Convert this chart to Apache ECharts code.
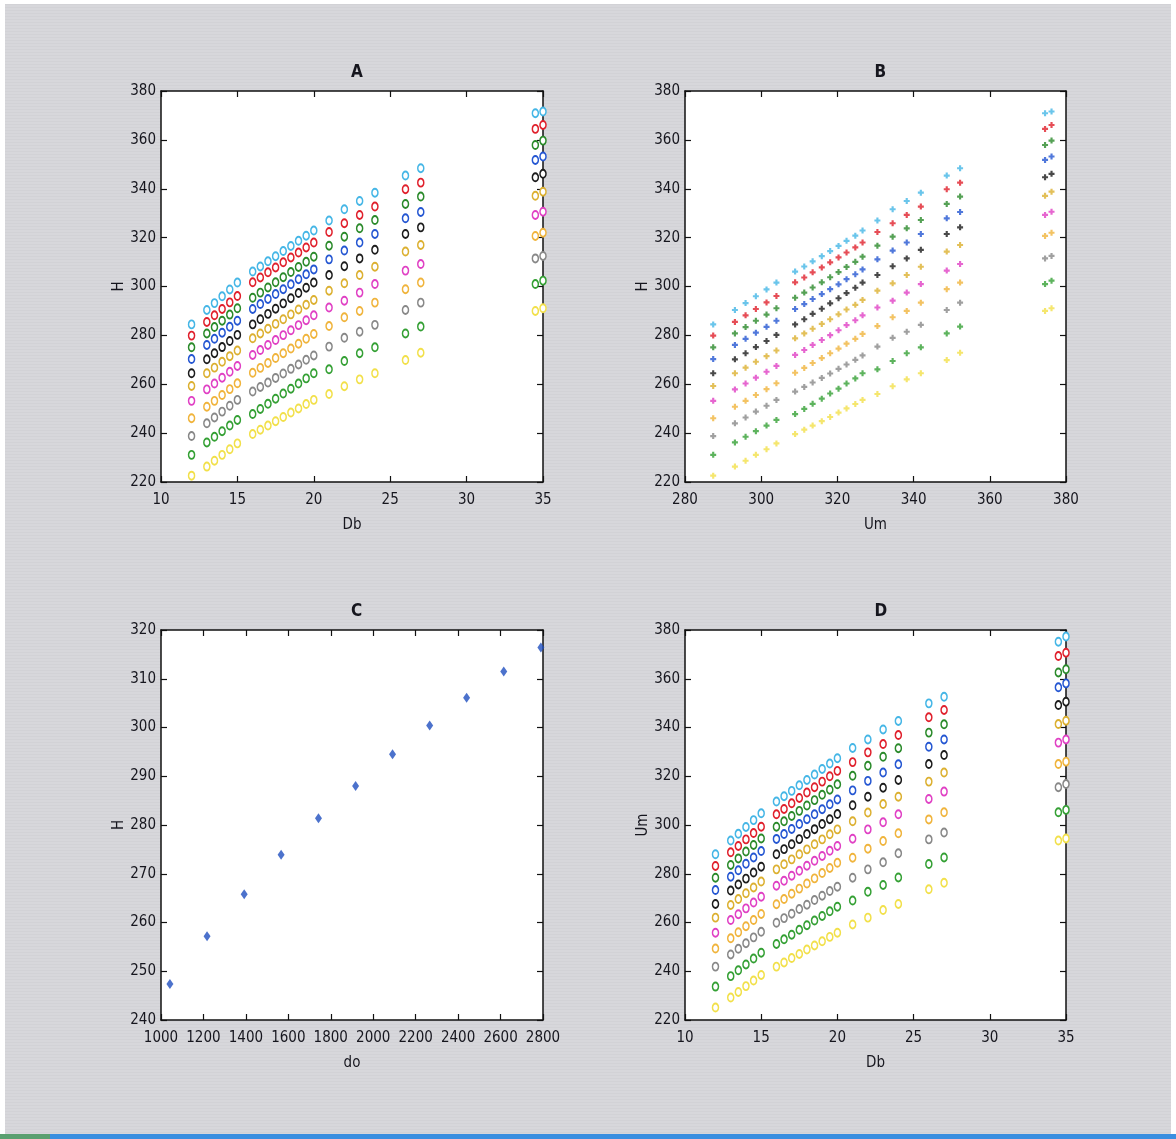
<!DOCTYPE html>
<html>
<head>
<meta charset="utf-8">
<script src="https://cdn.jsdelivr.net/npm/echarts@6/dist/echarts.min.js"></script>
<style>
  body { margin: 0; background: #fff; }
  #bg {
    position: absolute; left: 5px; top: 4px; width: 1166px; height: 1130px;
    background: repeating-linear-gradient(180deg, #d2d2d6 0px, #d2d2d6 1px, #d7d7db 1px, #d7d7db 3px);
  }
  #bar {
    position: absolute; left: 0; top: 1134px; width: 1176px; height: 5px;
    background: linear-gradient(90deg, #5aa070 0px, #5aa070 50px, #3a8fe0 50px, #3a8fe0 100%);
  }
  #chart { position: absolute; left: 0; top: 0; width: 1176px; height: 1139px; }
</style>
</head>
<body>
<div id="bg"></div>
<div id="bar"></div>
<div id="chart"></div>
<script>
// column positions (Db) shared by panels A and D
let dbCols = [12, 13, 13.5, 14, 14.5, 15, 16, 16.5, 17, 17.5, 18, 18.5, 19, 19.5, 20, 21, 22, 23, 24, 26, 27, 34.5, 35];
// column positions on the Um axis of panel B
let umCols = [287.4, 293.1, 295.9, 298.6, 301.4, 304.0, 308.9, 311.3, 313.5, 315.9, 318.1, 320.3, 322.4, 324.7, 326.6, 330.5, 334.5, 338.2, 341.9, 348.7, 352.2, 374.5, 376.2];

let seriesColors = ['#45b6e6', '#e0202c', '#2a8a2a', '#2456d2', '#1c1c1c', '#dcb030', '#e040c4', '#f0b43c', '#888888', '#34a034', '#f2e04a'];

// H values, one array per colour (top row to bottom row)
let hCyan    = [284.5, 290.4, 293.2, 296.0, 298.8, 301.6, 306.1, 308.2, 310.3, 312.4, 314.5, 316.6, 318.7, 320.8, 322.9, 327.0, 331.6, 335.0, 338.4, 345.4, 348.4, 370.9, 371.6];
let hRed     = [279.9, 285.5, 288.2, 290.8, 293.5, 296.1, 301.7, 303.7, 305.8, 307.8, 309.9, 311.9, 313.9, 316.0, 318.0, 322.3, 325.9, 329.3, 332.7, 339.8, 342.5, 364.5, 366.1];
let hGreen   = [275.1, 280.8, 283.4, 286.0, 288.5, 291.1, 295.4, 297.5, 299.6, 301.7, 303.8, 305.9, 308.0, 310.1, 312.2, 316.7, 320.4, 323.8, 327.2, 333.8, 336.8, 357.9, 359.7];
let hBlue    = [270.3, 276.1, 278.6, 281.1, 283.5, 286.0, 290.8, 292.8, 294.9, 296.9, 298.9, 300.9, 303.0, 305.0, 307.0, 311.1, 314.7, 318.0, 321.5, 327.9, 330.5, 351.8, 353.2];
let hBlack   = [264.5, 270.2, 272.7, 275.2, 277.7, 280.2, 284.5, 286.6, 288.8, 290.9, 293.1, 295.2, 297.3, 299.5, 301.6, 304.7, 308.3, 311.5, 315.0, 321.5, 324.2, 344.7, 346.1];
let hGold    = [259.3, 264.5, 266.8, 269.2, 271.5, 273.8, 278.8, 280.8, 282.7, 284.7, 286.6, 288.6, 290.6, 292.5, 294.5, 298.3, 301.3, 304.7, 308.1, 314.3, 317.0, 337.1, 338.8];
let hMagenta = [253.2, 257.9, 260.3, 262.7, 265.1, 267.5, 272.0, 274.0, 276.1, 278.1, 280.1, 282.1, 284.2, 286.2, 288.2, 291.4, 294.2, 297.5, 301.0, 306.5, 309.2, 329.3, 330.6];
let hOrange  = [246.1, 250.8, 253.2, 255.6, 258.0, 260.4, 264.7, 266.7, 268.7, 270.7, 272.7, 274.6, 276.6, 278.6, 280.6, 283.8, 287.4, 290.0, 293.4, 298.9, 301.6, 320.7, 322.0];
let hGray    = [238.8, 244.0, 246.4, 248.8, 251.2, 253.6, 257.0, 258.9, 260.7, 262.6, 264.4, 266.3, 268.1, 270.0, 271.8, 275.4, 279.0, 281.5, 284.3, 290.4, 293.4, 311.5, 312.5];
let hGreen2  = [231.1, 236.2, 238.5, 240.8, 243.1, 245.4, 247.8, 249.9, 252.0, 254.1, 256.2, 258.2, 260.3, 262.4, 264.5, 266.1, 269.5, 272.7, 275.1, 280.8, 283.6, 301.0, 302.4];
let hYellow  = [222.6, 226.3, 228.7, 231.1, 233.4, 235.8, 239.6, 241.4, 243.1, 244.9, 246.6, 248.4, 250.1, 251.9, 253.6, 256.0, 259.2, 262.0, 264.5, 269.9, 272.9, 290.0, 291.1];
let hRows = [hCyan, hRed, hGreen, hBlue, hBlack, hGold, hMagenta, hOrange, hGray, hGreen2, hYellow];

// Um values of panel D, one array per colour
let uCyan    = [288.0, 293.6, 296.4, 299.2, 302.0, 304.8, 309.6, 311.8, 314.0, 316.3, 318.5, 320.7, 323.0, 325.2, 327.4, 331.6, 335.1, 339.2, 342.7, 349.9, 352.6, 375.2, 377.3];
let uRed     = [283.2, 288.8, 291.4, 294.1, 296.7, 299.3, 304.4, 306.6, 308.9, 311.1, 313.3, 315.5, 317.8, 320.0, 322.2, 325.8, 329.8, 333.2, 336.9, 344.2, 347.2, 369.3, 370.7];
let uGreen   = [278.4, 283.6, 286.3, 289.1, 291.8, 294.5, 299.3, 301.5, 303.7, 305.8, 308.0, 310.2, 312.4, 314.5, 316.7, 320.2, 324.3, 328.0, 331.5, 337.9, 341.3, 362.6, 363.9];
let uBlue    = [273.3, 278.8, 281.4, 284.1, 286.7, 289.3, 294.3, 296.3, 298.4, 300.4, 302.4, 304.4, 306.5, 308.5, 310.5, 314.2, 318.1, 321.5, 324.9, 332.1, 335.1, 356.5, 358.1];
let uBlack   = [267.6, 273.1, 275.6, 278.0, 280.5, 282.9, 288.0, 290.1, 292.1, 294.2, 296.3, 298.3, 300.4, 302.4, 304.5, 308.1, 311.6, 315.3, 318.5, 325.0, 328.7, 349.2, 350.6];
let uGold    = [262.0, 267.2, 269.6, 272.0, 274.4, 276.8, 281.8, 283.9, 285.9, 288.0, 290.0, 292.1, 294.1, 296.2, 298.2, 301.5, 305.1, 308.6, 311.6, 317.8, 321.5, 341.4, 342.8];
let uMagenta = [255.8, 261.0, 263.4, 265.8, 268.2, 270.6, 275.1, 277.1, 279.2, 281.2, 283.3, 285.3, 287.3, 289.4, 291.4, 294.4, 298.2, 301.1, 304.4, 310.7, 313.7, 333.8, 335.1];
let uOrange  = [249.3, 253.5, 256.0, 258.5, 261.0, 263.5, 267.5, 269.6, 271.8, 273.9, 276.0, 278.1, 280.3, 282.4, 284.5, 286.6, 290.3, 293.4, 296.6, 302.3, 305.2, 325.0, 326.0];
let uGray    = [241.9, 246.9, 249.2, 251.5, 253.9, 256.2, 259.9, 261.8, 263.6, 265.5, 267.3, 269.2, 271.0, 272.9, 274.7, 278.4, 281.8, 284.7, 288.4, 294.1, 296.9, 315.5, 316.8];
let uGreen2  = [233.7, 238.0, 240.4, 242.8, 245.2, 247.6, 251.2, 253.1, 255.0, 257.0, 258.9, 260.8, 262.7, 264.6, 266.5, 269.0, 272.6, 275.4, 278.5, 284.0, 286.7, 305.2, 306.2];
let uYellow  = [225.1, 229.2, 231.5, 233.9, 236.2, 238.5, 241.9, 243.6, 245.4, 247.1, 248.9, 250.6, 252.3, 254.1, 255.8, 259.2, 262.0, 265.1, 267.6, 273.6, 276.3, 293.6, 294.5];
let uRows = [uCyan, uRed, uGreen, uBlue, uBlack, uGold, uMagenta, uOrange, uGray, uGreen2, uYellow];

// panel C
let doVals = [1042, 1217, 1392, 1566, 1742, 1917, 2091, 2266, 2440, 2615, 2790];
let hDo    = [247.4, 257.2, 265.8, 273.9, 281.4, 288.0, 294.5, 300.4, 306.1, 311.5, 316.4];

let panelTitles = ['A', 'B', 'C', 'D'];
let xNames = ['Db', 'Um', 'do', 'Db'];
let yNames = ['H', 'H', 'H', 'Um'];
let xRanges = [[10, 35, 5], [280, 380, 20], [1000, 2800, 200], [10, 35, 5]];
let yRanges = [[220, 380, 20], [220, 380, 20], [240, 320, 10], [220, 380, 20]];

let chart = echarts.init(document.getElementById('chart'));
let font = "'Liberation Sans Narrow', 'DejaVu Sans Condensed', 'Liberation Sans', sans-serif";
let textCol = '#16161e';

let grids = [
    {left: 161, top: 91, width: 382, height: 391},
    {left: 685, top: 91, width: 381, height: 391},
    {left: 161, top: 630, width: 382, height: 390},
    {left: 685, top: 630, width: 381, height: 390}
];

let plainNum = function (v) { return String(v); };

let xAxes = [], yAxes = [], titles = [];
grids.forEach(function (g, i) {
    g.show = true;
    g.backgroundColor = '#ffffff';
    g.borderWidth = 0;
    let axLine = {show: true, onZero: false, lineStyle: {color: '#111', width: 1.5}};
    let tick = {show: true, inside: true, length: 6, lineStyle: {color: '#111', width: 1.2}};
    let lab = {color: textCol, fontSize: 15, fontFamily: font, formatter: plainNum};
    xAxes.push({
        type: 'value', gridIndex: i, position: 'bottom',
        min: xRanges[i][0], max: xRanges[i][1], interval: xRanges[i][2],
        name: xNames[i], nameLocation: 'middle', nameGap: 36,
        nameTextStyle: {color: textCol, fontSize: 15, fontFamily: font},
        axisLine: axLine, axisTick: tick, splitLine: {show: false},
        axisLabel: Object.assign({margin: 11}, lab)
    });
    xAxes.push({
        type: 'value', gridIndex: i, position: 'top',
        min: xRanges[i][0], max: xRanges[i][1], interval: xRanges[i][2],
        axisLine: axLine, axisTick: tick, splitLine: {show: false}, axisLabel: {show: false}
    });
    yAxes.push({
        type: 'value', gridIndex: i, position: 'left',
        min: yRanges[i][0], max: yRanges[i][1], interval: yRanges[i][2],
        name: yNames[i], nameLocation: 'middle', nameGap: 33,
        nameTextStyle: {color: textCol, fontSize: 15, fontFamily: font},
        axisLine: axLine, axisTick: tick, splitLine: {show: false},
        axisLabel: Object.assign({margin: 5}, lab)
    });
    yAxes.push({
        type: 'value', gridIndex: i, position: 'right',
        min: yRanges[i][0], max: yRanges[i][1], interval: yRanges[i][2],
        axisLine: axLine, axisTick: tick, splitLine: {show: false}, axisLabel: {show: false}
    });
    titles.push({
        text: panelTitles[i],
        left: g.left + g.width / 2 - 6, top: g.top - 32,
        textStyle: {color: textCol, fontSize: 17, fontWeight: 'bold', fontFamily: font}
    });
});

let plus = 'path://M1.6,0H3.4V1.6H5V3.4H3.4V5H1.6V3.4H0V1.6H1.6Z';
let series = [];
hRows.forEach(function (row, k) {
    // A: H vs Db, open circles
    series.push({
        type: 'scatter', xAxisIndex: 0, yAxisIndex: 0,
        symbol: 'circle', symbolSize: [6, 8],
        itemStyle: {color: '#ffffff', opacity: 1, borderColor: seriesColors[k], borderWidth: 1.7},
        data: dbCols.map(function (x, j) { return [x, row[j]]; })
    });
    // B: H vs Um, plus marks
    series.push({
        type: 'scatter', xAxisIndex: 2, yAxisIndex: 2,
        symbol: plus, symbolSize: 6,
        itemStyle: {color: seriesColors[k]},
        data: umCols.map(function (x, j) { return [x, row[j]]; })
    });
});
uRows.forEach(function (row, k) {
    // D: Um vs Db, open circles
    series.push({
        type: 'scatter', xAxisIndex: 6, yAxisIndex: 6,
        symbol: 'circle', symbolSize: [6, 8],
        itemStyle: {color: '#ffffff', opacity: 1, borderColor: seriesColors[k], borderWidth: 1.7},
        data: dbCols.map(function (x, j) { return [x, row[j]]; })
    });
});
// C: H vs do, filled diamonds
series.push({
    type: 'scatter', xAxisIndex: 4, yAxisIndex: 4,
    symbol: 'diamond', symbolSize: [7, 10],
    itemStyle: {color: '#1f4fbf'},
    data: doVals.map(function (x, j) { return [x, hDo[j]]; })
});

chart.setOption({
    animation: false,
    backgroundColor: 'transparent',
    title: titles,
    grid: grids,
    xAxis: xAxes,
    yAxis: yAxes,
    series: series
});
</script>
</body>
</html>
